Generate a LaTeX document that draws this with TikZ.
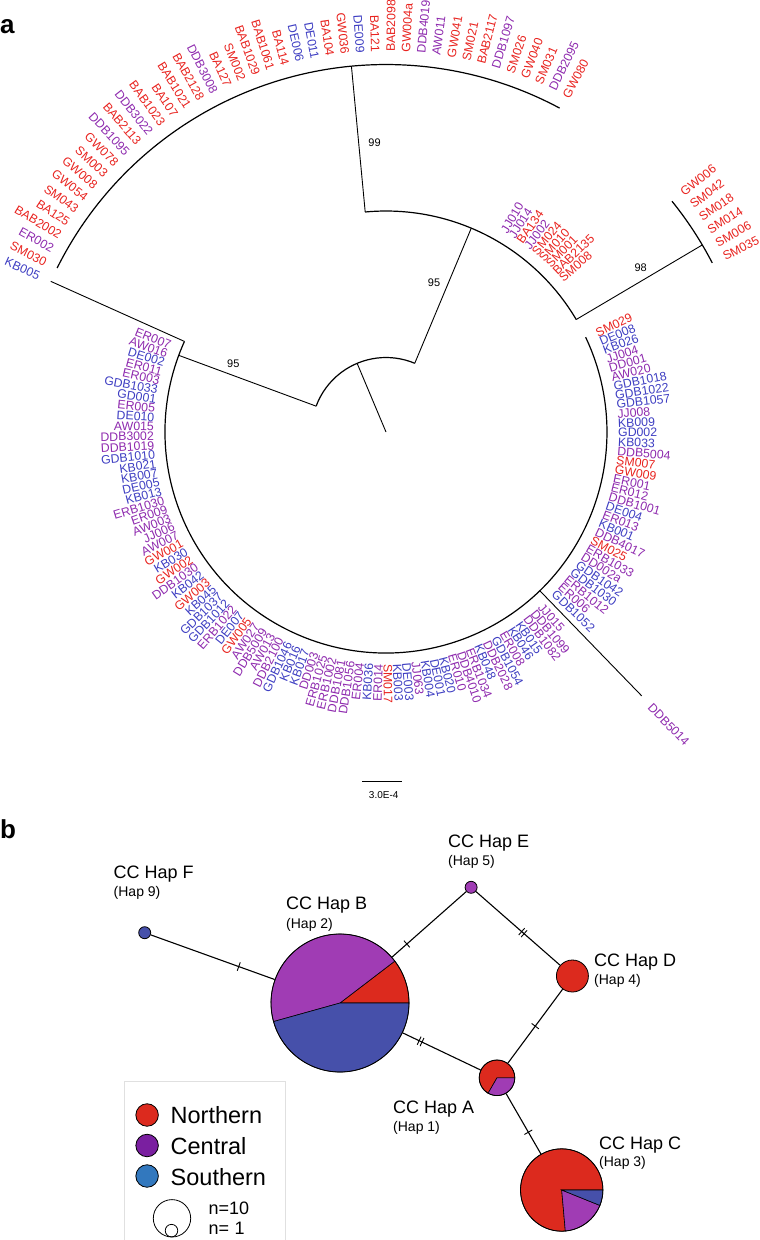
\documentclass[tikz,border=0pt]{standalone}
\usepackage{fontspec}
\setmainfont{Liberation Sans}
\usetikzlibrary{calc,decorations.markings}
\definecolor{lr}{HTML}{E8231F}
\definecolor{lp}{HTML}{8E2AAE}
\definecolor{lb}{HTML}{3E3EC2}
\definecolor{pr}{HTML}{DC2A1E}
\definecolor{pp}{HTML}{A03CB4}
\definecolor{pb}{HTML}{4650AA}
\definecolor{gr}{HTML}{DC2A1E}
\definecolor{gp}{HTML}{7A1FA0}
\definecolor{gb}{HTML}{3278BE}
\begin{document}
\begin{tikzpicture}[x=1pt,y=1pt,
  leaf/.style={inner sep=0pt,font=\fontsize{12.3}{12.3}\selectfont},
  br/.style={line width=0.9pt},
  arcst/.style={line width=1.2pt},
  boot/.style={inner sep=0pt,font=\fontsize{11}{11}\selectfont},
  hap/.style={circle,draw,line width=0.8pt,inner sep=0pt},
  sect/.style={draw=black,line width=0.6pt},
  edge/.style={line width=1.1pt},
  onetick/.style={postaction={decorate,decoration={markings,mark=at position #1 with {\draw[line width=0.9pt] (0,-4.5) -- (0,4.5);}}}},
  twotick/.style={postaction={decorate,decoration={markings,mark=at position #1 with {\draw[line width=0.9pt] (-1.6,-4.5) -- (-1.6,4.5) (1.6,-4.5) -- (1.6,4.5);}}}},
  hname/.style={anchor=base west,inner sep=0pt,font=\fontsize{18}{18}\selectfont},
  hsub/.style={anchor=base west,inner sep=0pt,font=\fontsize{14}{14}\selectfont},
  legt/.style={anchor=base west,inner sep=0pt,font=\fontsize{23.5}{23.5}\selectfont},
  legc/.style={circle,draw,line width=0.8pt,inner sep=0pt,minimum size=22.5},
  sectlab/.style={anchor=base west,inner sep=0pt,font=\bfseries\fontsize{26}{26}\selectfont}]
\useasboundingbox (0,0) rectangle (760,-1240);
\coordinate (C) at (386,-432);

% ---------- tree branches ----------
\draw[br] (C) -- ($(C)+(112.8:74.5)$);
\draw[arcst] ($(C)+(67.3:74.5)$) arc[start angle=67.3,end angle=159.7,radius=74.5];
\draw[br] ($(C)+(159.7:74.5)$) -- ($(C)+(159.7:221)$);
\draw[arcst] ($(C)+(155.8:221)$) arc[start angle=155.8,end angle=385.4,radius=221];
\draw[br] ($(C)+(155.8:221)$) -- ($(C)+(155.8:367.5)$);
\draw[br] ($(C)+(-45.9:221)$) -- ($(C)+(-45.9:367.5)$);
\draw[br] ($(C)+(67.3:74.5)$) -- ($(C)+(67.3:221)$);
\draw[arcst] ($(C)+(30.6:221)$) arc[start angle=30.6,end angle=95.4,radius=221];
\draw[br] ($(C)+(95.4:221)$) -- ($(C)+(95.4:367.5)$);
\draw[arcst] ($(C)+(61.8:367.5)$) arc[start angle=61.8,end angle=153.5,radius=367.5];
\draw[br] ($(C)+(30.6:221)$) -- ($(C)+(30.6:367.5)$);
\draw[arcst] ($(C)+(27.4:367.5)$) arc[start angle=27.4,end angle=38.9,radius=367.5];

\node[boot] (b95l) at (233.3,-363.3) {95};
\node[boot] (b95r) at (434,-283) {95};
\node[boot] (b99) at (374.5,-142.5) {99};
\node[boot] (b98) at (640.7,-267.5) {98};

% ---------- leaves ----------
\foreach \nm/\cl/\rr [count=\i from 0] in {
SM030/r/380,ER002/p/380,BAB2002/r/380,BA125/r/380,SM043/r/380,GW054/r/380,GW008/r/380,SM003/r/380,GW078/r/380,DDB1095/p/380,
BAB2113/r/380,DDB3022/p/380,BAB1023/r/380,BA107/r/380,BAB1021/r/380,BAB2128/r/380,DDB3008/p/380,BA127/r/380,SM002/r/380,BAB1029/r/380,
BAB1061/r/380,BA114/r/380,DE006/b/380,DE011/b/380,BA104/r/380,GW036/r/380,DE009/b/380,BA121/r/380,BAB2098/r/380,GW004a/r/380,
DDB4019/p/380,AW011/p/380,GW041/r/380,SM021/r/380,BAB2117/r/380,DDB1097/p/380,SM026/r/380,GW040/r/380,SM031/r/380,DDB2095/p/380,
GW080/r/380,JJ010/p/232,JJ014/p/232,BA134/r/232,JJ002/p/232,SM024/r/232,SM010/r/232,SM001/r/232,BAB2135/r/232,SM008/r/232,
GW006/r/380,SM042/r/380,SM018/r/380,SM014/r/380,SM006/r/380,SM035/r/380,SM029/r/232,DE008/b/232,KB026/b/232,JJ004/p/232,
DD001/p/232,AW020/p/232,GDB1018/b/232,GDB1022/b/232,GDB1057/b/232,JJ008/p/232,KB009/b/232,GD002/b/232,KB033/b/232,DDB5004/p/232,
SM007/r/232,GW009/r/232,ER001/p/232,ER012/p/232,DDB1001/p/232,DE004/b/232,ER013/p/232,KB001/b/232,DDB4017/p/232,SM025/r/232,
ERB1033/p/232,DD002a/p/232,GDB1042/b/232,GDB1030/b/232,ERB1012/p/232,ER006/p/232,GDB1052/b/232,DDB5014/p/380,JJ015/p/232,DDB1099/p/232,
DDB1082/p/232,KB015/b/232,KB046/b/232,ER008/p/232,GDB1054/b/232,DDB2028/p/232,KB048/b/232,ERB1034/p/232,DDB4010/p/232,ER010/p/232,
KB020/b/232,DE001/b/232,KB004/b/232,JJ063/p/232,DE003/b/232,KB003/b/232,SM017/r/232,ER014/p/232,KB036/b/232,ER004/p/232,
DDB1056/p/232,DDB1081/p/232,ERB1002/p/232,ERB1025/p/232,DD003/p/232,KB017/b/232,KB016/b/232,GDB1046/b/232,DDB2100/p/232,AW013/p/232,
DDB5009/p/232,AW027/p/232,GW005/r/232,DE007/b/232,ERB1022/p/232,GDB1012/b/232,GDB1037/b/232,KB045/b/232,GW003/r/232,KB042/b/232,
DDB1030/p/232,GW002/r/232,KB030/b/232,GW001/r/232,AW007/p/232,JJ006/p/232,AW003/p/232,ER009/p/232,ERB1030/p/232,KB013/b/232,
DE005/b/232,KB007/b/232,KB021/b/232,GDB1010/b/232,DDB1019/p/232,DDB3002/p/232,AW015/p/232,DE010/b/232,ER005/p/232,GD001/b/232,
GDB1033/b/232,ER003/p/232,ER011/p/232,DE002/b/232,AW016/p/232,ER007/p/232,KB005/b/380}{
  \pgfmathsetmacro\ang{153.5-\i*2.293}
  \pgfmathsetmacro\rot{ifthenelse(\ang>90,\ang-180,ifthenelse(\ang<-90,\ang+180,\ang))}
  \pgfmathtruncatemacro\lft{ifthenelse(\ang>90,1,ifthenelse(\ang<-90,1,0))}
  \ifnum\lft=1 \def\anc{east}\else\def\anc{west}\fi
  \node[leaf,text=l\cl,rotate=\rot,anchor=\anc] (L\i) at ($(C)+(\ang:\rr)$) {\nm};
}

% scale bar
\coordinate (sb1) at (362,-781);
\coordinate (sb2) at (402,-781);
\draw[line width=0.8pt] (sb1) -- (sb2);
\node[inner sep=0pt,font=\fontsize{10}{10}\selectfont] (sbt) at (383.7,-795.5) {3.0E-4};

\node[sectlab] (secA) at (0,-33) {a};
\node[sectlab] (secB) at (0,-838) {b};

% ---------- haplotype network ----------
\coordinate (cB) at (340,-1003);
\filldraw[sect,fill=pr] (cB) -- ++(0:69) arc[start angle=0,end angle=37.4,radius=69] -- cycle;
\filldraw[sect,fill=pp] (cB) -- ++(37.4:69) arc[start angle=37.4,end angle=195.6,radius=69] -- cycle;
\filldraw[sect,fill=pb] (cB) -- ++(195.6:69) arc[start angle=195.6,end angle=360,radius=69] -- cycle;
\node[hap,minimum size=138] (HB) at (cB) {};

\coordinate (cA) at (497,-1077.8);
\filldraw[sect,fill=pr] (cA) -- ++(0:17.8) arc[start angle=0,end angle=240,radius=17.8] -- cycle;
\filldraw[sect,fill=pp] (cA) -- ++(240:17.8) arc[start angle=240,end angle=360,radius=17.8] -- cycle;
\node[hap,minimum size=35.6] (HA) at (cA) {};

\coordinate (cC) at (561.7,-1190);
\filldraw[sect,fill=pr] (cC) -- ++(0:41.2) arc[start angle=0,end angle=275,radius=41.2] -- cycle;
\filldraw[sect,fill=pp] (cC) -- ++(275:41.2) arc[start angle=275,end angle=338,radius=41.2] -- cycle;
\filldraw[sect,fill=pb] (cC) -- ++(338:41.2) arc[start angle=338,end angle=360,radius=41.2] -- cycle;
\node[hap,minimum size=82.4] (HC) at (cC) {};

\node[hap,fill=pr,minimum size=32] (HD) at (572.4,-976) {};
\node[hap,fill=pp,minimum size=12] (HE) at (471.1,-887.3) {};
\node[hap,fill=pb,minimum size=12] (HF) at (144.7,-932.7) {};

\draw[edge,onetick=0.71] (HF) -- (HB);
\draw[edge,onetick=0.2] (HB) -- (HE);
\draw[edge,twotick=0.56] (HE) -- (HD);
\draw[edge,onetick=0.5] (HD) -- (HA);
\draw[edge,twotick=0.23] (HB) -- (HA);
\draw[edge,onetick=0.64] (HA) -- (HC);

\node[hname] (nF) at (113.5,-878) {CC Hap F};
\node[hsub] (sF) at (113.5,-896.5) {(Hap 9)};
\node[hname] (nB) at (286,-909) {CC Hap B};
\node[hsub] (sB) at (286,-928) {(Hap 2)};
\node[hname] (nE) at (448,-847) {CC Hap E};
\node[hsub] (sE) at (448,-865.5) {(Hap 5)};
\node[hname] (nD) at (594,-966) {CC Hap D};
\node[hsub] (sD) at (594,-984) {(Hap 4)};
\node[hname] (nA) at (393,-1113) {CC Hap A};
\node[hsub] (sA) at (393,-1131.5) {(Hap 1)};
\node[hname] (nC) at (599,-1149.7) {CC Hap C};
\node[hsub] (sC) at (599,-1166.5) {(Hap 3)};

% ---------- legend ----------
\draw[draw=black!12,line width=0.8pt] (124.2,-1081.7) rectangle (285,-1260);
\node[legc,fill=gr] (cN) at (147.1,-1115) {};
\node[legc,fill=gp] (cCe) at (147.1,-1145.5) {};
\node[legc,fill=gb] (cS) at (147.1,-1176) {};
\node[legt] (tN) at (170.5,-1123.5) {Northern};
\node[legt] (tCe) at (170.5,-1154.5) {Central};
\node[legt] (tS) at (170.5,-1185.5) {Southern};
\node[circle,draw,line width=0.8pt,inner sep=0pt,minimum size=37.4] (szB) at (172,-1218.3) {};
\node[circle,draw,line width=0.8pt,inner sep=0pt,minimum size=12.5] (szS) at (171.5,-1230.6) {};
\node[anchor=base west,inner sep=0pt,font=\fontsize{18}{18}\selectfont] (t10) at (208.5,-1214.6) {n=10};
\node[anchor=base west,inner sep=0pt,font=\fontsize{18}{18}\selectfont] (t1) at (208.5,-1234.6) {n=\hspace{0.3em}1};
\end{tikzpicture}
\end{document}
